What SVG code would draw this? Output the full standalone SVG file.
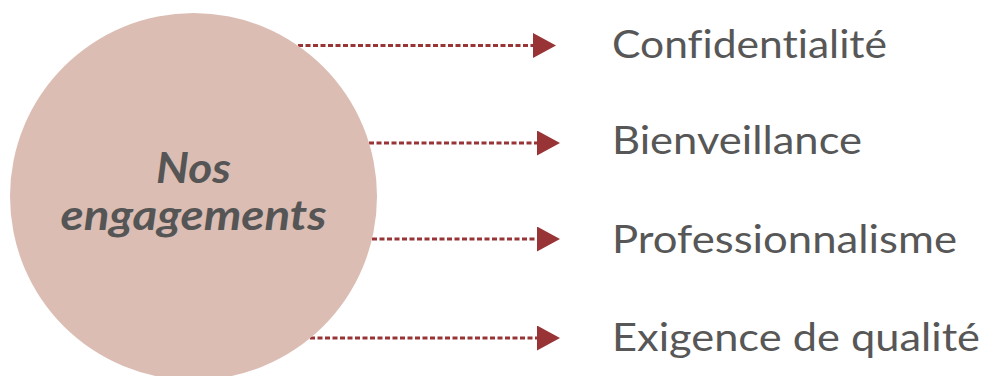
<svg xmlns="http://www.w3.org/2000/svg" width="985" height="376" viewBox="0 0 985 376">
<style>
.conn{stroke:#993436;stroke-width:3;stroke-dasharray:5 2.5;fill:none}
.lbl{font-family:"Lato","Open Sans","Liberation Sans",sans-serif;font-size:39px;fill:#575757;font-variant-ligatures:none}
.hub{font-family:"Lato","Open Sans","Liberation Sans",sans-serif;font-size:42px;font-weight:bold;font-style:italic;fill:#555555;font-variant-ligatures:none}
</style>
<defs>
<marker id="ah" markerWidth="23" markerHeight="25" refX="0" refY="12.5" orient="auto" markerUnits="userSpaceOnUse">
<polygon points="0,0 23,12.5 0,25" fill="#993436"/>
</marker>
</defs>
<rect width="985" height="376" fill="#ffffff"/>
<g id="connectors">
<line class="conn" x1="298" y1="45.5" x2="533" y2="45.5" marker-end="url(#ah)"/>
<line class="conn" x1="369" y1="143" x2="537" y2="143" marker-end="url(#ah)"/>
<line class="conn" x1="372" y1="239" x2="537" y2="239" marker-end="url(#ah)"/>
<line class="conn" x1="310" y1="338" x2="537" y2="338" marker-end="url(#ah)"/>
</g>
<g id="hub">
<circle cx="193.5" cy="196.5" r="183.5" fill="#dbbdb3"/>
<text class="hub" x="193.5" y="183" text-anchor="middle" textLength="75" lengthAdjust="spacingAndGlyphs">Nos</text>
<text class="hub" x="193.5" y="230" text-anchor="middle" textLength="266" lengthAdjust="spacingAndGlyphs">engagements</text>
</g>
<g id="n1"><text class="lbl" x="612" y="58" textLength="275" lengthAdjust="spacingAndGlyphs">Confidentialité</text></g>
<g id="n2"><text class="lbl" x="612" y="154" textLength="250" lengthAdjust="spacingAndGlyphs">Bienveillance</text></g>
<g id="n3"><text class="lbl" x="612" y="253" textLength="345" lengthAdjust="spacingAndGlyphs">Professionnalisme</text></g>
<g id="n4"><text class="lbl" x="612" y="351" textLength="368" lengthAdjust="spacingAndGlyphs">Exigence de qualité</text></g>
</svg>
